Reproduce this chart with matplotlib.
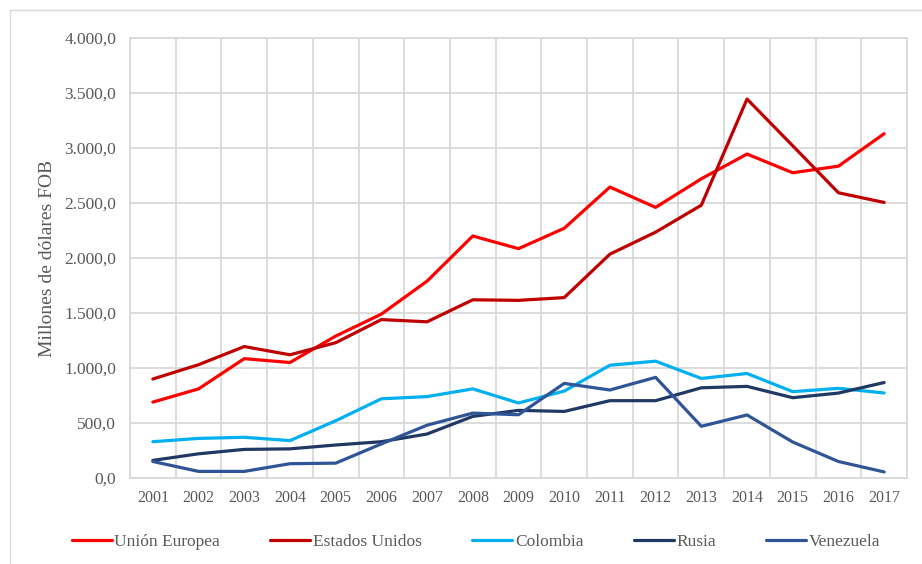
import matplotlib
matplotlib.use("Agg")
import matplotlib.pyplot as plt
from matplotlib.lines import Line2D
from matplotlib.ticker import FuncFormatter, MultipleLocator
import numpy as np

# datos (millones de dólares FOB)
anios = [str(a) for a in range(2001, 2018)]
union_europea = [690, 810, 1085, 1050, 1290, 1490, 1790, 2200, 2085, 2270,
                 2645, 2460, 2720, 2945, 2775, 2835, 3130]
estados_unidos = [900, 1030, 1195, 1120, 1230, 1440, 1420, 1620, 1615, 1640,
                  2035, 2235, 2480, 3445, 3020, 2593, 2505]
colombia = [330, 360, 370, 340, 520, 720, 740, 810, 682, 790,
            1025, 1062, 905, 950, 785, 815, 773]
rusia = [160, 220, 260, 265, 300, 330, 400, 560, 615, 605,
         703, 703, 820, 833, 730, 772, 868]
venezuela = [150, 60, 60, 130, 135, 310, 480, 590, 575, 860,
             800, 915, 470, 573, 327, 150, 55]

series = [
    ("Unión Europea", union_europea, "#FF0000"),
    ("Estados Unidos", estados_unidos, "#C00000"),
    ("Colombia", colombia, "#00B0F0"),
    ("Rusia", rusia, "#1F3864"),
    ("Venezuela", venezuela, "#2F5597"),
]

plt.rcParams["font.family"] = ["Liberation Serif", "DejaVu Serif"]
gris = "#595959"

fig = plt.figure(figsize=(9.22, 5.64), dpi=100)
ax = fig.add_axes([130 / 922, 86 / 564, 777 / 922, 440 / 564])

x = np.arange(len(anios))
for nombre, valores, color in series:
    ax.plot(x, valores, color=color, lw=2.3, label=nombre,
            solid_joinstyle="round", solid_capstyle="round")

ax.set_xlim(-0.5, len(anios) - 0.5)
ax.set_ylim(0, 4000)
ax.set_xticks(x)
ax.set_xticklabels(anios)
ax.set_xticks(np.arange(-0.5, len(anios), 1), minor=True)
ax.yaxis.set_major_locator(MultipleLocator(500))
ax.yaxis.set_major_formatter(FuncFormatter(
    lambda v, p: f"{v:,.1f}".replace(",", "X").replace(".", ",").replace("X", ".")))

ax.grid(True, axis="y", which="major", color="#D9D9D9", lw=1.3)
ax.grid(True, axis="x", which="minor", color="#D9D9D9", lw=1.3)
ax.set_axisbelow(True)
for s in ax.spines.values():
    s.set_color("#D9D9D9")
    s.set_linewidth(1.3)

ax.tick_params(axis="both", which="both", length=0, colors=gris)
ax.tick_params(axis="y", pad=10, labelsize=12.5)
ax.tick_params(axis="x", pad=9, labelsize=11.5)
ax.set_ylabel("Millones de dólares FOB", color=gris, fontsize=14, labelpad=6)

fig.legend(loc="center", bbox_to_anchor=(476 / 922, 0.039), ncol=5, frameon=False,
           fontsize=12.5, handlelength=2.3, handletextpad=0.15,
           columnspacing=2.9, labelcolor=gris)

# borde exterior
fig.add_artist(Line2D([10 / 922, 10 / 922], [0, 1 - 10 / 564],
                      transform=fig.transFigure, color="#D9D9D9", lw=1))
fig.add_artist(Line2D([10 / 922, 1], [1 - 10 / 564, 1 - 10 / 564],
                      transform=fig.transFigure, color="#D9D9D9", lw=1))

fig.savefig("out.png", dpi=100)
